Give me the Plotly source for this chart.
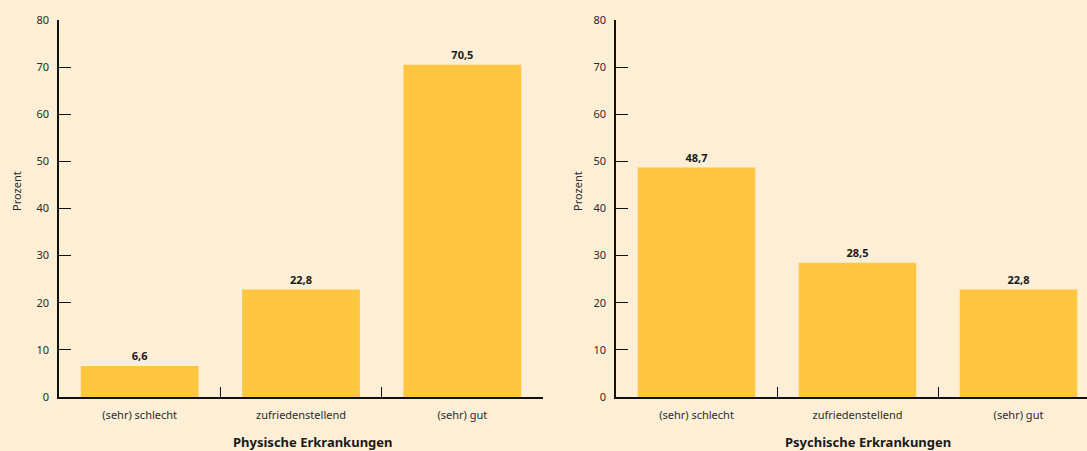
import plotly.graph_objects as go

# Survey results: health assessment by type of illness (percent)
categories = ["(sehr) schlecht", "zufriedenstellend", "(sehr) gut"]
physical_values = [6.6, 22.8, 70.5]
mental_values = [48.7, 28.5, 22.8]
panel_titles = ["Physische Erkrankungen", "Psychische Erkrankungen"]
y_ticks = [0, 10, 20, 30, 40, 50, 60, 70, 80]
y_title = "Prozent"

W, H = 1087, 451
BG = "#FDEFD6"
BAR = "#FEC641"
FONT = "Noto Sans"

top, bottom = 20, 54
plot_h = H - top - bottom


def px_x(x):
    return x / W


def px_y(y):
    # pixel row -> paper coordinate (plot area spans rows top..H-bottom)
    return (H - bottom - y) / plot_h


fig = go.Figure()

for i, vals in enumerate([physical_values, mental_values]):
    fig.add_trace(go.Bar(
        x=categories,
        y=vals,
        xaxis="x" if i == 0 else "x2",
        yaxis="y" if i == 0 else "y2",
        marker=dict(color=BAR, line=dict(width=0)),
        texttemplate="%{y:.1f}",
        textposition="outside",
        textfont=dict(family=FONT, size=11, color="#1a1a1a", weight="bold"),
        cliponaxis=False,
        hoverinfo="skip",
        showlegend=False,
    ))

xcommon = dict(
    type="category",
    showline=True, linecolor="#111", linewidth=1.6,
    ticks="inside", ticklen=10, tickwidth=1.4, tickcolor="#111",
    tickson="boundaries",
    tickfont=dict(family=FONT, size=11, color="#2b2b2b"),
    ticklabelstandoff=7,
    showgrid=False, zeroline=False,
    layer="below traces",
    fixedrange=True,
)
ycommon = dict(
    range=[0, 80],
    tickvals=y_ticks,
    showline=True, linecolor="#111", linewidth=1.6,
    ticks="inside", ticklen=12, tickwidth=1.4, tickcolor="#111",
    tickfont=dict(family=FONT, size=11, color="#2b2b2b"),
    ticklabelstandoff=6,
    showgrid=False, zeroline=False,
    layer="below traces",
    fixedrange=True,
)

fig.update_layout(
    width=W, height=H,
    margin=dict(l=0, r=0, t=top, b=bottom),
    paper_bgcolor=BG, plot_bgcolor=BG,
    separators=",.",
    bargap=0.27,
    font=dict(family=FONT, size=11, color="#2b2b2b"),
    xaxis=dict(domain=[px_x(59), px_x(543)], range=[-0.5, 2.5],
               anchor="y", **xcommon),
    xaxis2=dict(domain=[px_x(616), 1.0], range=[-0.5, 2.5 - 12 / 161.0],
                anchor="y2", **xcommon),
    yaxis=dict(domain=[0, 1], anchor="x", **ycommon),
    yaxis2=dict(domain=[0, 1], anchor="x2", **ycommon),
)

annotations = []
for title, cx in zip(panel_titles, [313, 868]):
    annotations.append(dict(
        text=title, xref="paper", yref="paper",
        x=px_x(cx), y=px_y(442), xanchor="center", yanchor="middle",
        showarrow=False,
        font=dict(family=FONT, size=13, color="#1a1a1a", weight="bold"),
    ))
for cx in [16, 577]:
    annotations.append(dict(
        text=y_title, xref="paper", yref="paper",
        x=px_x(cx), y=px_y(191), xanchor="center", yanchor="middle",
        textangle=-90, showarrow=False,
        font=dict(family=FONT, size=11, color="#2b2b2b"),
    ))
fig.update_layout(annotations=annotations)

fig.write_html("out.html", config={"displayModeBar": False})
